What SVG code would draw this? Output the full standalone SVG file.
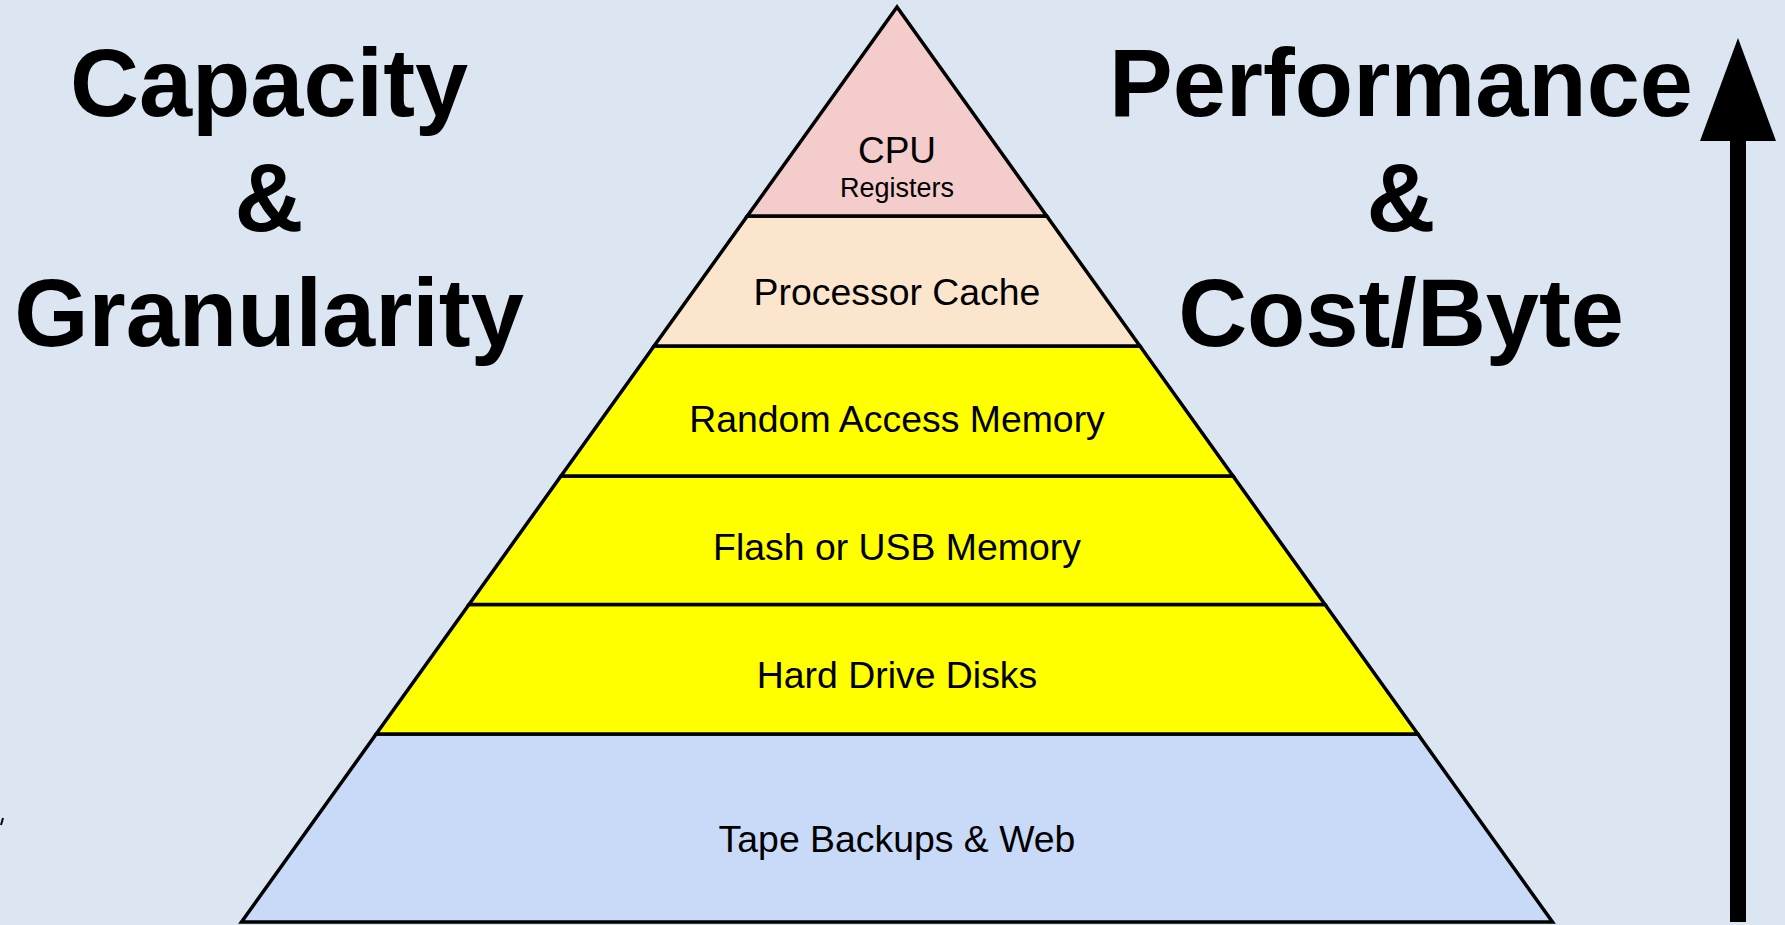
<svg xmlns="http://www.w3.org/2000/svg" width="1785" height="925" viewBox="0 0 1785 925">
  <style>
    .layer { stroke: #000; stroke-width: 3.5; stroke-linejoin: miter; }
    .lbl { font-family: "Liberation Sans", Arial, sans-serif; font-size: 37.4px; fill: #000; text-anchor: middle; }
    .head { font-family: "Liberation Sans", Arial, sans-serif; font-size: 95.5px; font-weight: bold; fill: #000; text-anchor: middle; }
  </style>
  <rect x="0" y="0" width="1785" height="925" fill="#dce6f2"/>

  <g id="heading-left">
    <text class="head" x="269" y="116">Capacity</text>
    <text class="head" x="269" y="231">&amp;</text>
    <text class="head" x="269" y="346">Granularity</text>
  </g>

  <g id="heading-right">
    <text class="head" x="1401" y="116">Performance</text>
    <text class="head" x="1401" y="231">&amp;</text>
    <text class="head" x="1401" y="346">Cost/Byte</text>
  </g>

  <g id="layer-tape">
    <polygon class="layer" fill="#c9daf8" points="376.2,734 1417.8,734 1552.5,922 241.5,922"/>
    <text class="lbl" x="897" y="852">Tape Backups &amp; Web</text>
  </g>
  <g id="layer-hdd">
    <polygon class="layer" fill="#ffff00" points="469,604.5 1325,604.5 1417.8,734 376.2,734"/>
    <text class="lbl" x="897" y="688">Hard Drive Disks</text>
  </g>
  <g id="layer-flash">
    <polygon class="layer" fill="#ffff00" points="561,476 1233,476 1325,604.5 469,604.5"/>
    <text class="lbl" x="897" y="560">Flash or USB Memory</text>
  </g>
  <g id="layer-ram">
    <polygon class="layer" fill="#ffff00" points="654.1,346 1139.9,346 1233,476 561,476"/>
    <text class="lbl" x="897" y="432">Random Access Memory</text>
  </g>
  <g id="layer-cache">
    <polygon class="layer" fill="#fce5cd" points="747.3,216 1046.7,216 1139.9,346 654.1,346"/>
    <text class="lbl" x="897" y="305">Processor Cache</text>
  </g>
  <g id="layer-cpu">
    <polygon class="layer" fill="#f4cccc" points="897,7 1046.7,216 747.3,216"/>
    <text class="lbl" x="897" y="163" style="font-size:37px">CPU</text>
    <text class="lbl" x="897" y="197" style="font-size:27px">Registers</text>
  </g>

  <g id="connectors">
    <rect x="1730" y="138" width="16" height="784" fill="#000"/>
    <polygon points="1738,38 1776,141 1700,141" fill="#000"/>
    <line x1="3" y1="818" x2="1" y2="825" stroke="#000" stroke-width="2"/>
  </g>
</svg>
